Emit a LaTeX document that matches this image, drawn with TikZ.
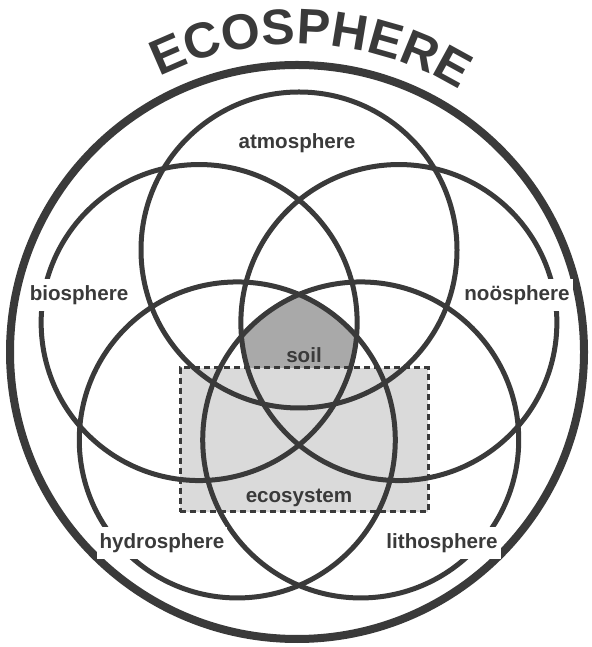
\documentclass[tikz,border=0pt]{standalone}
\usepackage{fontspec}
\setmainfont{Liberation Sans}
\usetikzlibrary{calc,decorations.text}
\definecolor{ink}{HTML}{3A3A3A}
\definecolor{soilgray}{HTML}{A9A9A9}
\definecolor{ecogray}{HTML}{DADADA}

\begin{document}
\begin{tikzpicture}[x=0.5pt, y=0.5pt,
  sphere/.style={draw=ink, line width=2.5pt},
  outer/.style={draw=ink, line width=4pt},
  ecobox/.style={rectangle, fill=ecogray, draw=ink, line width=1.5pt,
    dash pattern=on 3pt off 2pt, minimum width=124pt, minimum height=72pt,
    inner sep=0pt},
  lbl/.style={font=\fontsize{10.3}{12}\selectfont\bfseries, text=ink,
    inner sep=1.5pt},
  gap/.style={lbl, fill=white, inner ysep=3pt}
]
\useasboundingbox (0,0) rectangle (591,647);

\coordinate (eco) at (297,295);
\coordinate (mid) at (299,292);
\coordinate (atmo) at ($(mid)+(90:105)$);
\coordinate (bio) at ($(mid)+(162:105)$);
\coordinate (hydro) at ($(mid)+(234:105)$);
\coordinate (litho) at ($(mid)+(306:105)$);
\coordinate (noo) at ($(mid)+(18:105)$);

% soil = common part of the five spheres
\begin{scope}
  \clip (atmo) circle[radius=158];
  \clip (bio) circle[radius=158];
  \clip (noo) circle[radius=158];
  \clip (hydro) circle[radius=158];
  \clip (litho) circle[radius=158];
  \fill[soilgray] (mid) circle[radius=160];
\end{scope}

\node[ecobox] (ecosys) at (304,207) {};

\draw[outer] (eco) circle[radius=287];
\draw[sphere] (atmo) circle[radius=158];
\draw[sphere] (bio) circle[radius=158];
\draw[sphere] (noo) circle[radius=158];
\draw[sphere] (hydro) circle[radius=158];
\draw[sphere] (litho) circle[radius=158];

\node[lbl] (atmoname) at (297,504) {atmosphere};
\node[gap] (bioname) at (79,352) {biosphere};
\node[gap] (nooname) at (517,352) {noösphere};
\node[gap] (hydroname) at (162,104) {hydrosphere};
\node[gap] (lithoname) at (442,104) {lithosphere};
\node[lbl] (soilname) at (304,292) {soil};
\node[lbl] (econame) at (299,149) {ecosystem};

\path[decorate, decoration={text along path, text align=center,
    text color=ink, text={|\fontsize{25}{30}\selectfont\bfseries|ECOSPHERE}}]
  ([shift={(127.35:308)}]eco) arc[start angle=127.35, end angle=47.35, radius=308];
\end{tikzpicture}
\end{document}
